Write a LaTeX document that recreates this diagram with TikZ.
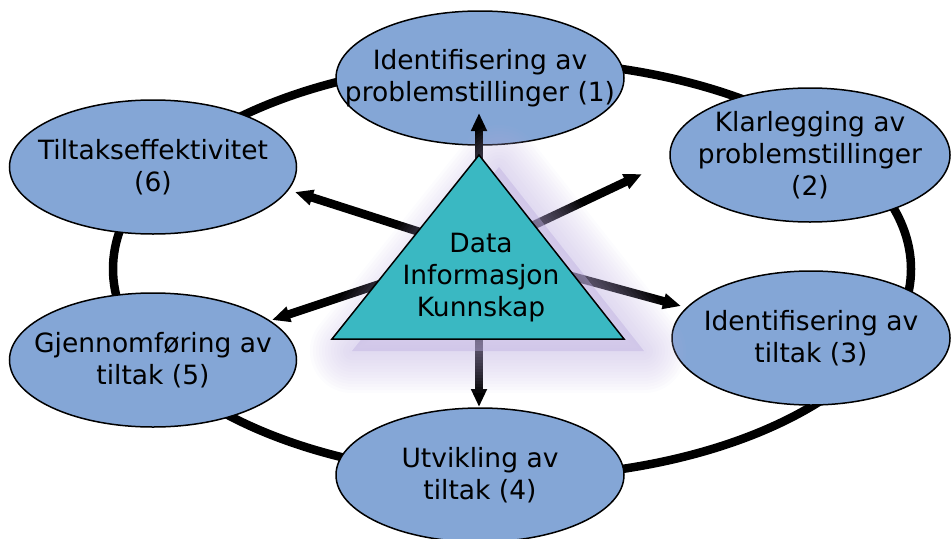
\documentclass[tikz,border=0pt]{standalone}
\usepackage{fontspec}
\setmainfont{DejaVu Sans}
\usetikzlibrary{shapes.geometric, arrows.meta}

\definecolor{fasefarge}{RGB}{132,166,214}
\definecolor{trifarge}{RGB}{58,184,194}
\definecolor{glowlilla}{RGB}{190,176,224}

\begin{document}
\begin{tikzpicture}[x=1pt, y=-1pt,
  fase/.style  = {ellipse, draw=black, line width=1.5pt, fill=fasefarge,
                  inner xsep=-45pt, inner ysep=0pt, align=center,
                  font=\fontsize{26.5}{32}\selectfont},
  ring/.style  = {line width=8.5pt},
  spoke/.style = {line width=8.5pt, -{Triangle[length=18pt, width=15pt]}},
  glow/.style  = {draw=glowlilla, fill=glowlilla, opacity=0.045, line join=round}
]
\useasboundingbox (0,0) rectangle (952,538);

% ring
\draw[ring] (512,269) ellipse [x radius=399, y radius=208];

\node[fase, minimum width=288pt, minimum height=134pt] (f1) at (480,78)  {Identifisering av\\problemstillinger (1)};
\node[fase, minimum width=280pt, minimum height=134pt] (f2) at (810,155) {Klarlegging av\\problemstillinger\\(2)};
\node[fase, minimum width=278pt, minimum height=134pt] (f3) at (811,338) {Identifisering av\\tiltak (3)};
\node[fase, minimum width=288pt, minimum height=134pt] (f4) at (480,475) {Utvikling av\\tiltak (4)};
\node[fase, minimum width=287pt, minimum height=134pt] (f5) at (153,360) {Gjennomføring av\\tiltak (5)};
\node[fase, minimum width=287pt, minimum height=134pt] (f6) at (153,167) {Tiltakseffektivitet\\(6)};

% arrows out of the triangle
\coordinate (hub) at (479,251);
\coordinate (t1) at (479,113);
\coordinate (t2) at (642,174);
\coordinate (t3) at (681,306);
\coordinate (t4) at (479,407);
\coordinate (t5) at (272,320);
\coordinate (t6) at (295,192);

\draw[spoke] (hub) -- (t1);
\draw[spoke] (hub) -- (t2);
\draw[spoke] (hub) -- (t3);
\draw[spoke] (hub) -- (t4);
\draw[spoke] (hub) -- (t5);
\draw[spoke] (hub) -- (t6);

% triangle with its glow
\coordinate (apex) at (479,155);
\coordinate (bl)   at (332,339);
\coordinate (br)   at (624,339);

\foreach \w in {84,78,...,6}
  \filldraw[glow, line width=\w pt] ([shift={(20,12)}]apex) -- ([shift={(20,12)}]br) -- ([shift={(20,12)}]bl) -- cycle;

\filldraw[fill=trifarge, line width=1.5pt] (apex) -- (br) -- (bl) -- cycle;
\node[align=center, font=\fontsize{26.5}{32}\selectfont] (kb) at (481,278) {Data\\Informasjon\\Kunnskap};

\end{tikzpicture}
\end{document}
